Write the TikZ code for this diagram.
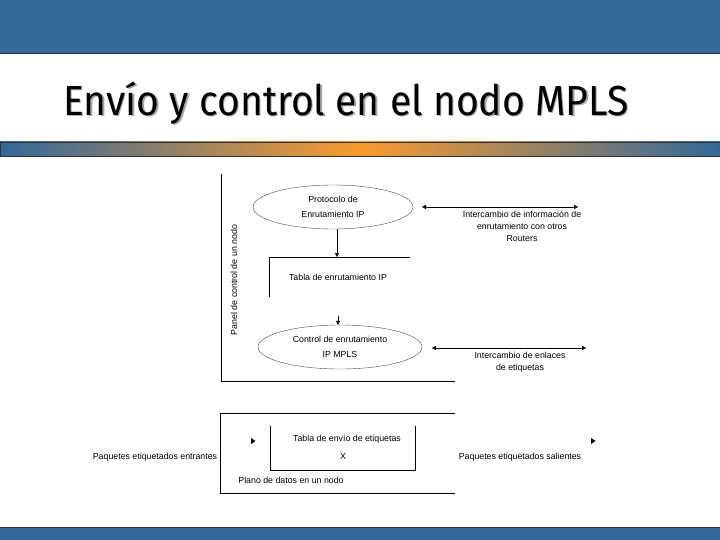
\documentclass[tikz,border=0pt]{standalone}
\usepackage{fontspec}
\setmainfont{Liberation Sans}
\newfontfamily\titlefont{Fira Sans}
\usetikzlibrary{arrows.meta,shapes.geometric}
\definecolor{bandblue}{HTML}{34689A}
\definecolor{bandorange}{HTML}{F99B2E}
\tikzset{
  lbl/.style={font=\fontsize{8.8}{12}\selectfont, align=center, inner sep=1pt},
  proc/.style={ellipse, draw=black!70, thin, minimum width=160pt, minimum height=44pt},
  tip/.style={-{Triangle[length=4pt,width=4pt]}},
  both/.style={{Triangle[length=4pt,width=4pt]}-{Triangle[length=4pt,width=4pt]}, thin},
  ttl/.style={anchor=west, xscale=0.93, font=\titlefont\fontsize{42}{46}\selectfont}
}
\begin{document}
\begin{tikzpicture}[x=1pt,y=-1pt]
  \useasboundingbox (0,0) rectangle (720,540);
  % Bands of the slide
  \fill [bandblue] (0,0) rectangle (720,53);
  \draw [black!80] (0,53) -- (720,53);
  \shade [left color=bandblue, right color=bandorange] (0,142) rectangle (360,156);
  \shade [left color=bandorange, right color=bandblue] (360,142) rectangle (720,156);
  \draw [black!80] (0,142) rectangle (720,156);
  \fill [bandblue] (0,527) rectangle (720,540);
  \draw [black!80] (0,527) -- (720,527);
  % Title with its shadow
  \node [ttl, text=black!35] at (61.5,104.5) {Envío y control en el nodo MPLS};
  \node (title) [ttl] at (60,103) {Envío y control en el nodo MPLS};

  % Control panel
  \draw [thin] (221,174) -- (221,381) -- (455,381);
  \node (panel) [lbl, rotate=90] at (234,280) {Panel de control de un nodo};
  \node (proto) [proc] at (333,207) {};
  \node [lbl] at (proto) {Protocolo de\\[3pt]Enrutamiento IP};
  \node (ctrl) [proc, minimum width=164pt] at (340,347) {};
  \node [lbl] at (ctrl) {Control de enrutamiento\\[3pt]IP MPLS};
  \draw [thin] (269,297) -- (269,257) -- (410,257);
  \node (iptab) [lbl] at (338,277) {Tabla de enrutamiento IP};
  \coordinate (tabtop) at (337,257);
  \draw [thin, tip] (proto.south -| tabtop) -- (tabtop);
  \coordinate (c1) at (338,316);
  \draw [tip] (c1) -- (ctrl.north -| c1);
  \coordinate (x1) at (422,207);
  \coordinate (x2) at (578,207);
  \draw [both] (x1) -- (x2);
  \node (inter1) [lbl] at (522,226) {Intercambio de información de\\enrutamiento con otros\\Routers};
  \coordinate (y1) at (432,348);
  \coordinate (y2) at (586,348);
  \draw [both] (y1) -- (y2);
  \node (inter2) [lbl] at (520,362) {Intercambio de enlaces\\de etiquetas};

  % Data plane
  \draw [thin] (455,413) -- (220,413) -- (220,493) -- (455,493);
  \draw [thin] (270,426) -- (270,470) -- (415,470) -- (415,426);
  \node (fwtab) [lbl] at (347,439) {Tabla de envío de etiquetas};
  \node (xx) [lbl] at (343,456) {X};
  \node (plane) [lbl] at (291,480) {Plano de datos en un nodo};
  \node (inpk) [lbl] at (155,457) {Paquetes etiquetados entrantes};
  \node (outpk) [lbl] at (520,457) {Paquetes etiquetados salientes};
  \foreach \ax in {253,593} {
    \fill (\ax-2,438) -- (\ax+2.5,441) -- (\ax-2,444) -- cycle;
  }
\end{tikzpicture}
\end{document}
